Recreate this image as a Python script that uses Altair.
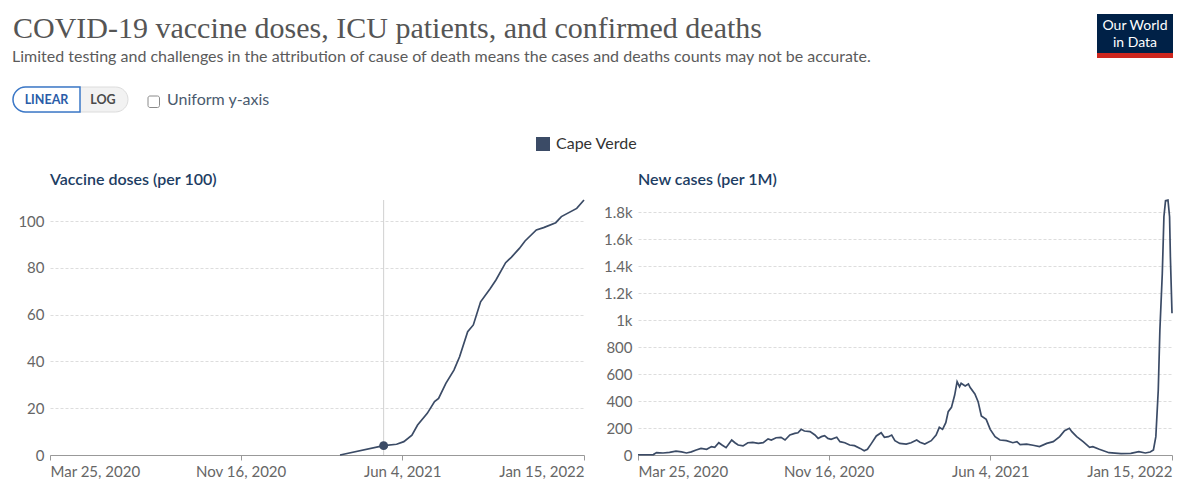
import altair as alt
import pandas as pd

# ---------------- data ----------------
START = "2020-03-25"   # left end of both time axes
END = "2022-01-15"     # right end of both time axes

vax_dates = ["2021-03-19", "2021-05-12", "2021-05-28", "2021-06-06", "2021-06-16",
             "2021-06-23", "2021-07-05", "2021-07-14", "2021-07-19", "2021-07-28",
             "2021-08-07", "2021-08-14", "2021-08-24", "2021-08-31", "2021-09-09",
             "2021-09-21", "2021-09-28", "2021-10-10", "2021-10-17", "2021-10-27",
             "2021-11-03", "2021-11-17", "2021-11-26", "2021-12-11", "2021-12-18",
             "2022-01-06", "2022-01-15"]
vax_values = [0, 4.0, 4.6, 5.7, 8.5, 12.8, 17.8, 22.8, 24.2, 30.6, 36.3, 42.0, 52.7,
              55.6, 65.5, 71.2, 74.8, 82.2, 84.5, 88.3, 91.5, 96.2, 97.2, 99.3, 101.9,
              105.4, 109.0]

hover_date = ["2021-05-12"]
hover_value = [4.0]

# days since 2020-03-25
case_days = [0, 19, 23, 31, 39, 47, 54, 60, 66, 72, 78, 85, 91, 95, 100, 104, 109, 116,
             120, 124, 130, 136, 142, 149, 155, 161, 165, 171, 177, 182, 188, 194, 198,
             202, 206, 213, 219, 223, 227, 231, 235, 239, 246, 250, 256, 262, 268, 275,
             280, 284, 289, 295, 301, 305, 310, 314, 318, 324, 332, 338, 345, 349, 355,
             363, 369, 373, 377, 381, 384, 388, 392, 395, 398, 400, 405, 409, 411, 417,
             421, 425, 431, 436, 442, 448, 456, 464, 469, 473, 481, 489, 497, 506, 514,
             522, 528, 534, 537, 543, 551, 559, 563, 571, 583, 598, 610, 620, 628, 634,
             638, 641, 644, 646, 649, 651, 653, 656, 658, 659, 661]
case_values = [2, 3, 18, 15, 20, 28, 23, 15, 23, 37, 49, 42, 62, 57, 91, 74, 54, 111,
               91, 74, 67, 91, 94, 86, 91, 119, 111, 128, 131, 111, 148, 160, 165,
               190, 178, 173, 148, 123, 136, 143, 123, 116, 131, 99, 91, 74, 69, 49,
               32, 42, 86, 141, 165, 131, 136, 148, 106, 86, 81, 91, 111, 95, 81,
               106, 148, 205, 190, 240, 321, 353, 444, 543, 506, 531, 511, 526, 501, 452,
               395, 289, 264, 190, 136, 111, 106, 91, 99, 77, 81, 72, 62, 86, 99,
               136, 180, 198, 173, 136, 99, 57, 62, 42, 17, 10, 12, 25, 15, 22,
               37, 136, 481, 926, 1346, 1765, 1884, 1889, 1765, 1469, 1050]

vax_ticks = [0, 20, 40, 60, 80, 100]
case_ticks = [0, 200, 400, 600, 800, 1000, 1200, 1400, 1600, 1800]
date_ticks = ["2020-03-25", "2020-11-16", "2021-06-04", "2022-01-15"]

country = "Cape Verde"
title_text = "COVID-19 vaccine doses, ICU patients, and confirmed deaths"
subtitle_text = ("Limited testing and challenges in the attribution of cause of death "
                 "means the cases and deaths counts may not be accurate.")

# ---------------- tables ----------------
vax_df = pd.DataFrame({"date": pd.to_datetime(vax_dates), "value": vax_values})
hover_df = pd.DataFrame({"date": pd.to_datetime(hover_date), "value": hover_value})
case_df = pd.DataFrame({
    "date": pd.Timestamp(START) + pd.to_timedelta(case_days, unit="D"),
    "value": case_values,
})


def dt(s):
    t = pd.Timestamp(s)
    return alt.DateTime(year=t.year, month=t.month, date=t.day)


LINE = "#3b4b66"
NAVY = "#1d3d63"
GREY_TXT = "#666666"
FONT = "Lato"
W, H = 534, 255

x_axis = alt.Axis(values=[dt(d) for d in date_ticks], format="%b %-d, %Y",
                  labelFlush=True, grid=False, domainColor="#999999",
                  tickColor="#999999", tickSize=5, labelPadding=4,
                  labelFont=FONT, labelFontSize=15, labelColor=GREY_TXT, title=None)
x_enc = alt.X("date:T", axis=x_axis,
              scale=alt.Scale(domain=[dt(START), dt(END)]))


def y_axis(vals, expr=None):
    kw = dict(values=vals, grid=True, gridColor="#dddddd", gridDash=[3, 2],
              domain=False, ticks=False, labelPadding=6, labelFont=FONT,
              labelFontSize=15, labelColor=GREY_TXT, title=None)
    if expr:
        kw["labelExpr"] = expr
    return alt.Axis(**kw)


one = pd.DataFrame({"t": [""]})


def txt(s, x, y, size, color, weight="normal", font=FONT, align="left",
        baseline="middle"):
    return alt.Chart(pd.DataFrame({"t": [s]})).mark_text(
        align=align, baseline=baseline, fontSize=size, color=color,
        fontWeight=weight, font=font
    ).encode(x=alt.value(x), y=alt.value(y), text="t:N")


def box(x, x2, y, y2, **kw):
    return alt.Chart(one).mark_rect(**kw).encode(
        x=alt.value(x), x2=alt.value(x2), y=alt.value(y), y2=alt.value(y2))


# ---------------- left panel ----------------
left_line = alt.Chart(vax_df).mark_line(color=LINE, strokeWidth=1.7).encode(
    x=x_enc,
    y=alt.Y("value:Q", axis=y_axis(vax_ticks),
            scale=alt.Scale(domain=[0, max(vax_values)], nice=False)),
)
hover_rule = alt.Chart(hover_df).mark_rule(color="#d0d0d0", strokeWidth=1).encode(
    x="date:T")
hover_dot = alt.Chart(hover_df).mark_circle(color=LINE, size=80, opacity=1).encode(
    x="date:T", y="value:Q")

header = [
    box(-42, -41, -192, -191, opacity=0),
    txt(title_text, -37, -162, 30, "#555555", font="Liberation Serif",
        baseline="alphabetic"),
    txt(subtitle_text, -38, -138, 16, "#5b5b5b", baseline="alphabetic"),
    box(-37, 78, -113, -88, fill="#f2f2f2", stroke="#dcdcdc", strokeWidth=1,
        cornerRadius=12.5),
    box(-37, 30, -113, -88, fill="#ffffff", stroke="#3b78c8", strokeWidth=1.5,
        cornerRadiusTopLeft=12.5, cornerRadiusBottomLeft=12.5),
    txt("LINEAR", -3.5, -100.5, 12.5, "#2a5ca8", weight="bold", align="center"),
    txt("LOG", 53, -100.5, 12.5, "#4a4a4a", weight="bold", align="center"),
    box(98, 109.5, -104, -92.5, fill="#ffffff", stroke="#8a8a8a", strokeWidth=1,
        cornerRadius=2),
    txt("Uniform y-axis", 117, -100, 16, "#4a5a6e"),
    box(486, 500, -63, -49, fill=LINE),
    txt(country, 506, -56, 16, "#333333"),
    txt("Vaccine doses (per 100)", 0, -20, 16, NAVY, weight=600),
]

left = alt.layer(*header, hover_rule, left_line, hover_dot).properties(width=W, height=H)

# ---------------- right panel ----------------
k_labels = ("datum.value >= 1000 ? format(datum.value / 1000, '.1~f') + 'k' "
            ": format(datum.value, 'd')")
right_line = alt.Chart(case_df).mark_line(color=LINE, strokeWidth=1.7).encode(
    x=x_enc,
    y=alt.Y("value:Q", axis=y_axis(case_ticks, k_labels),
            scale=alt.Scale(domain=[0, max(case_values)], nice=False)),
)
logo = [
    box(459, 535, -186, -147, fill="#002147"),
    box(459, 535, -147, -142, fill="#ce261e"),
    txt("Our World", 497, -174, 14, "#ffffff", align="center"),
    txt("in Data", 497, -157, 14, "#ffffff", align="center"),
    txt("New cases (per 1M)", 0, -20, 16, NAVY, weight=600),
]
right = alt.layer(*logo, right_line).properties(width=W, height=H)

chart = alt.HConcatChart(hconcat=[left, right], spacing=54, bounds="flush",
                         padding=0).configure_view(stroke=None)

chart.save("out.html", embed_options={"renderer": "svg", "actions": False})
